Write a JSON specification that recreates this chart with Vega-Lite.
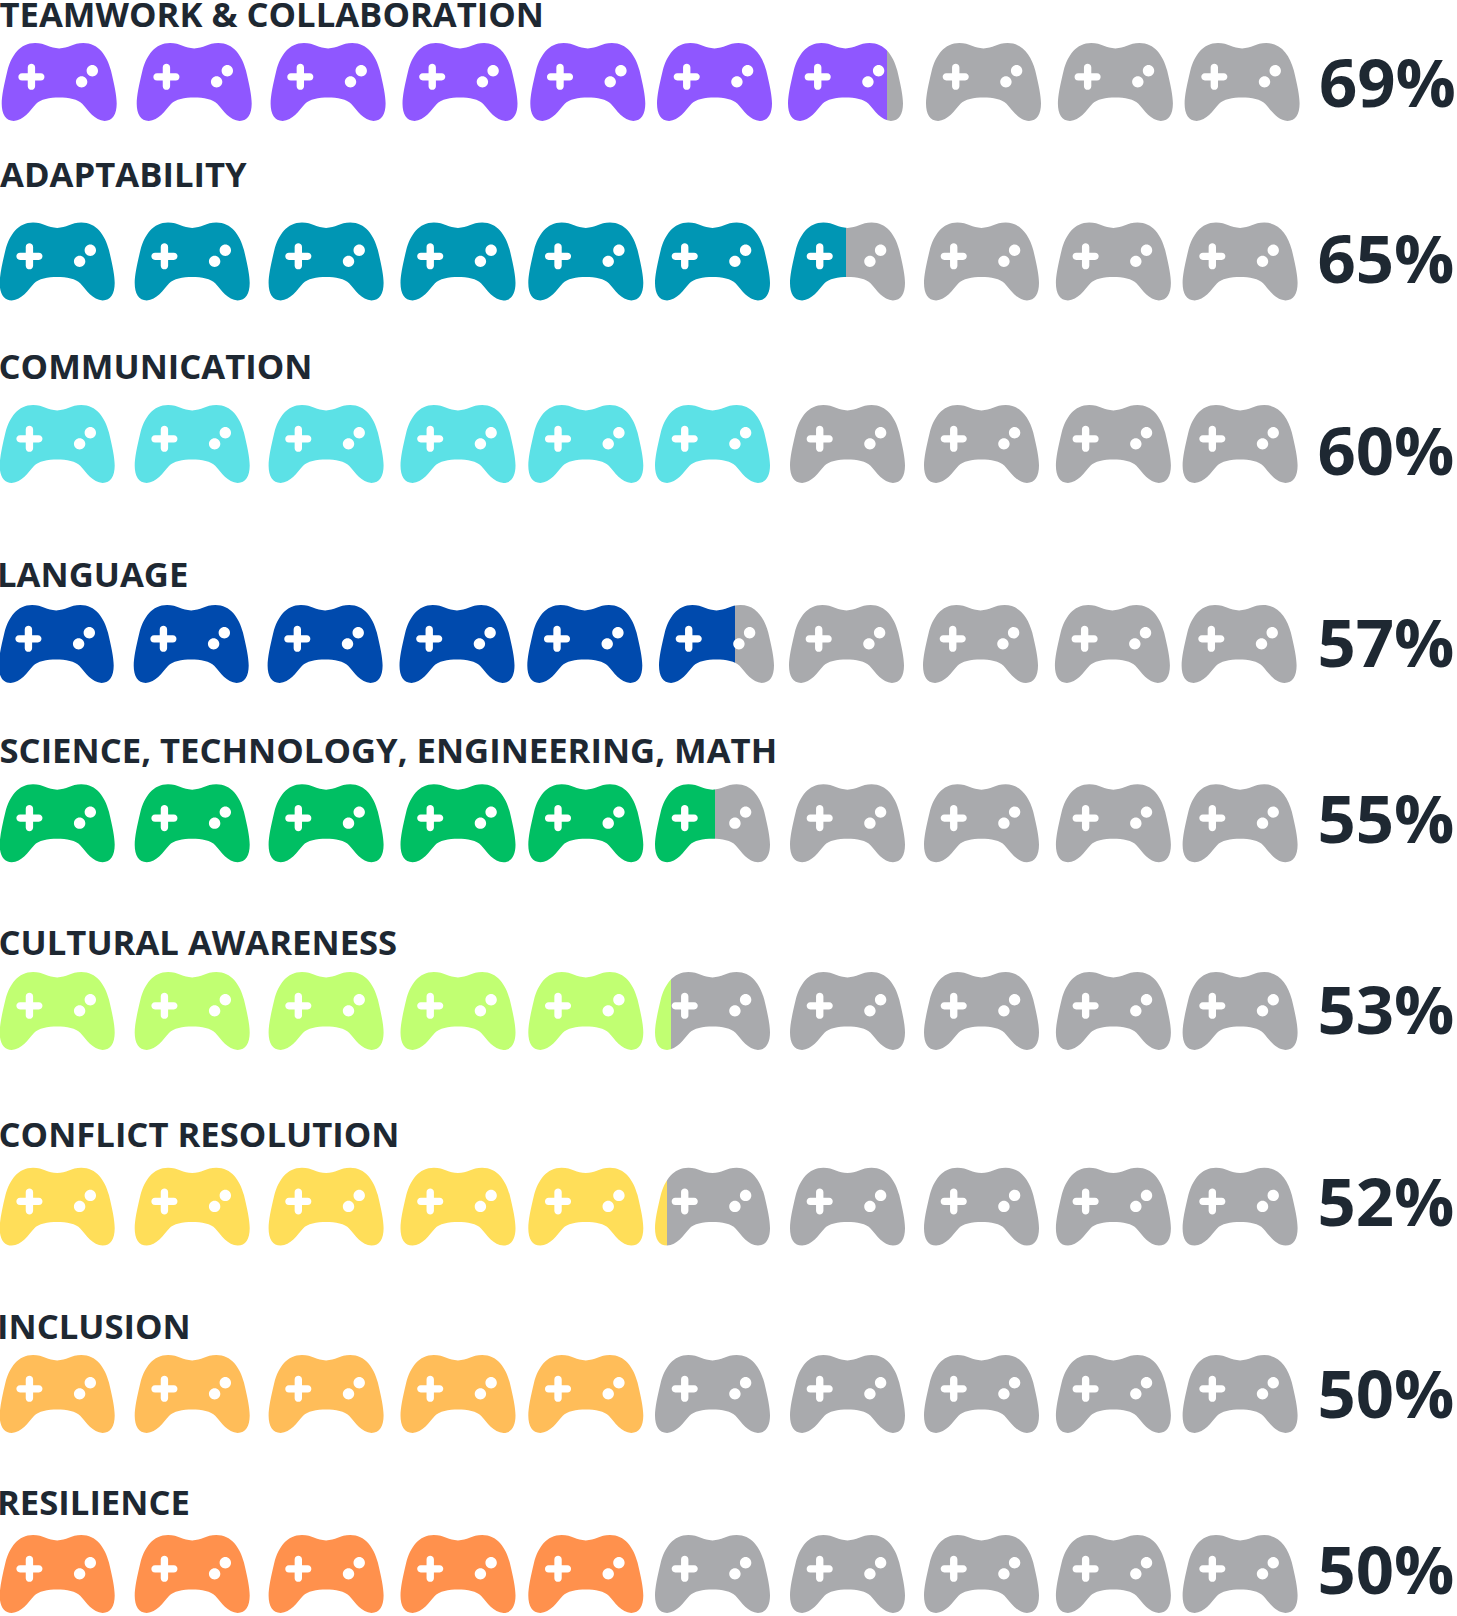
{
"$schema":"https://vega.github.io/schema/vega-lite/v6.json",
"width":1457,"height":1616,"padding":0,"autosize":"none",
"background":"#ffffff",
"config":{"view":{"stroke":null}},
"datasets":{
"icons":[
{"rank":1,"icon":1,"paint":"Teamwork","filled":1},{"rank":1,"icon":2,"paint":"Teamwork","filled":1},{"rank":1,"icon":3,"paint":"Teamwork","filled":1},{"rank":1,"icon":4,"paint":"Teamwork","filled":1},{"rank":1,"icon":5,"paint":"Teamwork","filled":1},{"rank":1,"icon":6,"paint":"Teamwork","filled":1},{"rank":1,"icon":7,"paint":"Teamwork","filled":0.865},{"rank":1,"icon":8,"paint":"Unfilled","filled":0},{"rank":1,"icon":9,"paint":"Unfilled","filled":0},{"rank":1,"icon":10,"paint":"Unfilled","filled":0},
{"rank":2,"icon":1,"paint":"Adaptability","filled":1},{"rank":2,"icon":2,"paint":"Adaptability","filled":1},{"rank":2,"icon":3,"paint":"Adaptability","filled":1},{"rank":2,"icon":4,"paint":"Adaptability","filled":1},{"rank":2,"icon":5,"paint":"Adaptability","filled":1},{"rank":2,"icon":6,"paint":"Adaptability","filled":1},{"rank":2,"icon":7,"paint":"Adaptability","filled":0.486},{"rank":2,"icon":8,"paint":"Unfilled","filled":0},{"rank":2,"icon":9,"paint":"Unfilled","filled":0},{"rank":2,"icon":10,"paint":"Unfilled","filled":0},
{"rank":3,"icon":1,"paint":"Communication","filled":1},{"rank":3,"icon":2,"paint":"Communication","filled":1},{"rank":3,"icon":3,"paint":"Communication","filled":1},{"rank":3,"icon":4,"paint":"Communication","filled":1},{"rank":3,"icon":5,"paint":"Communication","filled":1},{"rank":3,"icon":6,"paint":"Communication","filled":1},{"rank":3,"icon":7,"paint":"Unfilled","filled":0},{"rank":3,"icon":8,"paint":"Unfilled","filled":0},{"rank":3,"icon":9,"paint":"Unfilled","filled":0},{"rank":3,"icon":10,"paint":"Unfilled","filled":0},
{"rank":4,"icon":1,"paint":"Language","filled":1},{"rank":4,"icon":2,"paint":"Language","filled":1},{"rank":4,"icon":3,"paint":"Language","filled":1},{"rank":4,"icon":4,"paint":"Language","filled":1},{"rank":4,"icon":5,"paint":"Language","filled":1},{"rank":4,"icon":6,"paint":"Language","filled":0.658},{"rank":4,"icon":7,"paint":"Unfilled","filled":0},{"rank":4,"icon":8,"paint":"Unfilled","filled":0},{"rank":4,"icon":9,"paint":"Unfilled","filled":0},{"rank":4,"icon":10,"paint":"Unfilled","filled":0},
{"rank":5,"icon":1,"paint":"STEM","filled":1},{"rank":5,"icon":2,"paint":"STEM","filled":1},{"rank":5,"icon":3,"paint":"STEM","filled":1},{"rank":5,"icon":4,"paint":"STEM","filled":1},{"rank":5,"icon":5,"paint":"STEM","filled":1},{"rank":5,"icon":6,"paint":"STEM","filled":0.52},{"rank":5,"icon":7,"paint":"Unfilled","filled":0},{"rank":5,"icon":8,"paint":"Unfilled","filled":0},{"rank":5,"icon":9,"paint":"Unfilled","filled":0},{"rank":5,"icon":10,"paint":"Unfilled","filled":0},
{"rank":6,"icon":1,"paint":"Cultural","filled":1},{"rank":6,"icon":2,"paint":"Cultural","filled":1},{"rank":6,"icon":3,"paint":"Cultural","filled":1},{"rank":6,"icon":4,"paint":"Cultural","filled":1},{"rank":6,"icon":5,"paint":"Cultural","filled":1},{"rank":6,"icon":6,"paint":"Cultural","filled":0.135},{"rank":6,"icon":7,"paint":"Unfilled","filled":0},{"rank":6,"icon":8,"paint":"Unfilled","filled":0},{"rank":6,"icon":9,"paint":"Unfilled","filled":0},{"rank":6,"icon":10,"paint":"Unfilled","filled":0},
{"rank":7,"icon":1,"paint":"Conflict","filled":1},{"rank":7,"icon":2,"paint":"Conflict","filled":1},{"rank":7,"icon":3,"paint":"Conflict","filled":1},{"rank":7,"icon":4,"paint":"Conflict","filled":1},{"rank":7,"icon":5,"paint":"Conflict","filled":1},{"rank":7,"icon":6,"paint":"Conflict","filled":0.1},{"rank":7,"icon":7,"paint":"Unfilled","filled":0},{"rank":7,"icon":8,"paint":"Unfilled","filled":0},{"rank":7,"icon":9,"paint":"Unfilled","filled":0},{"rank":7,"icon":10,"paint":"Unfilled","filled":0},
{"rank":8,"icon":1,"paint":"Inclusion","filled":1},{"rank":8,"icon":2,"paint":"Inclusion","filled":1},{"rank":8,"icon":3,"paint":"Inclusion","filled":1},{"rank":8,"icon":4,"paint":"Inclusion","filled":1},{"rank":8,"icon":5,"paint":"Inclusion","filled":1},{"rank":8,"icon":6,"paint":"Unfilled","filled":0},{"rank":8,"icon":7,"paint":"Unfilled","filled":0},{"rank":8,"icon":8,"paint":"Unfilled","filled":0},{"rank":8,"icon":9,"paint":"Unfilled","filled":0},{"rank":8,"icon":10,"paint":"Unfilled","filled":0},
{"rank":9,"icon":1,"paint":"Resilience","filled":1},{"rank":9,"icon":2,"paint":"Resilience","filled":1},{"rank":9,"icon":3,"paint":"Resilience","filled":1},{"rank":9,"icon":4,"paint":"Resilience","filled":1},{"rank":9,"icon":5,"paint":"Resilience","filled":1},{"rank":9,"icon":6,"paint":"Unfilled","filled":0},{"rank":9,"icon":7,"paint":"Unfilled","filled":0},{"rank":9,"icon":8,"paint":"Unfilled","filled":0},{"rank":9,"icon":9,"paint":"Unfilled","filled":0},{"rank":9,"icon":10,"paint":"Unfilled","filled":0}
],
"skills":[
{"rank":1,"skill":"TEAMWORK & COLLABORATION","share":0.69},
{"rank":2,"skill":"ADAPTABILITY","share":0.65},
{"rank":3,"skill":"COMMUNICATION","share":0.60},
{"rank":4,"skill":"LANGUAGE","share":0.57},
{"rank":5,"skill":"SCIENCE, TECHNOLOGY, ENGINEERING, MATH","share":0.55},
{"rank":6,"skill":"CULTURAL AWARENESS","share":0.53},
{"rank":7,"skill":"CONFLICT RESOLUTION","share":0.52},
{"rank":8,"skill":"INCLUSION","share":0.50},
{"rank":9,"skill":"RESILIENCE","share":0.50}
]},
"data":{"name":"icons"},
"encoding":{
"x":{"field":"icon","type":"quantitative","axis":null,"scale":{"domain":[1,2,3,4,5,6,7,8,9,10],"range":[57.2,192.2,326.1,458,585.8,712.5,847.5,981.5,1113.4,1240.1]}},
"y":{"field":"rank","type":"quantitative","axis":null,"scale":{"domain":[1,2,3,4,5,6,7,8,9],"range":[82,261.5,444,644,823.3,1011,1206.6,1394,1574]}}
},
"layer":[
{"transform":[{"filter":"(datum.filled==0||datum.filled==1)&&datum.rank!=1&&datum.rank!=4"}],
"mark":{"type":"point","filled":true,"opacity":1,"size":13225,"shape":"M0,-0.584C0.16,-0.584 0.24,-0.677 0.42,-0.677C0.68,-0.677 0.83,-0.46 0.9,-0.2C0.96,0.05 1,0.24 1,0.375C1,0.56 0.93,0.677 0.79,0.677C0.62,0.677 0.5,0.49 0.4,0.38C0.33,0.3 0.16,0.27 0,0.27C-0.16,0.27 -0.33,0.3 -0.4,0.38C-0.5,0.49 -0.62,0.677 -0.79,0.677C-0.93,0.677 -1,0.56 -1,0.375C-1,0.24 -0.96,0.05 -0.9,-0.2C-0.83,-0.46 -0.68,-0.677 -0.42,-0.677C-0.24,-0.677 -0.16,-0.584 0,-0.584ZM-0.419,-0.253C-0.419,-0.338 -0.547,-0.338 -0.547,-0.253L-0.547,-0.154L-0.646,-0.154C-0.731,-0.154 -0.731,-0.026 -0.646,-0.026L-0.547,-0.026L-0.547,0.073C-0.547,0.158 -0.419,0.158 -0.419,0.073L-0.419,-0.026L-0.32,-0.026C-0.235,-0.026 -0.235,-0.154 -0.32,-0.154L-0.419,-0.154ZM0.675,-0.195C0.675,-0.2497 0.6307,-0.294 0.576,-0.294C0.5213,-0.294 0.477,-0.2497 0.477,-0.195C0.477,-0.1403 0.5213,-0.096 0.576,-0.096C0.6307,-0.096 0.675,-0.1403 0.675,-0.195ZM0.489,-0.003C0.489,-0.0577 0.4447,-0.102 0.39,-0.102C0.3353,-0.102 0.291,-0.0577 0.291,-0.003C0.291,0.0517 0.3353,0.096 0.39,0.096C0.4447,0.096 0.489,0.0517 0.489,-0.003Z"},
"encoding":{"color":{"field":"paint","type":"nominal","legend":null,"scale":{"domain":["Teamwork","Adaptability","Communication","Language","STEM","Cultural","Conflict","Inclusion","Resilience","Unfilled"],"range":["#8f57ff","#0096b4","#5ce1e6","#004aad","#00bf63","#c1ff72","#ffde59","#ffbd59","#ff914d","#a9aaad"]}}}},
{"transform":[{"filter":"(datum.filled==0||datum.filled==1)&&datum.rank==1"}],
"mark":{"type":"point","filled":true,"opacity":1,"size":13225,"xOffset":2,"shape":"M0,-0.584C0.16,-0.584 0.24,-0.677 0.42,-0.677C0.68,-0.677 0.83,-0.46 0.9,-0.2C0.96,0.05 1,0.24 1,0.375C1,0.56 0.93,0.677 0.79,0.677C0.62,0.677 0.5,0.49 0.4,0.38C0.33,0.3 0.16,0.27 0,0.27C-0.16,0.27 -0.33,0.3 -0.4,0.38C-0.5,0.49 -0.62,0.677 -0.79,0.677C-0.93,0.677 -1,0.56 -1,0.375C-1,0.24 -0.96,0.05 -0.9,-0.2C-0.83,-0.46 -0.68,-0.677 -0.42,-0.677C-0.24,-0.677 -0.16,-0.584 0,-0.584ZM-0.419,-0.253C-0.419,-0.338 -0.547,-0.338 -0.547,-0.253L-0.547,-0.154L-0.646,-0.154C-0.731,-0.154 -0.731,-0.026 -0.646,-0.026L-0.547,-0.026L-0.547,0.073C-0.547,0.158 -0.419,0.158 -0.419,0.073L-0.419,-0.026L-0.32,-0.026C-0.235,-0.026 -0.235,-0.154 -0.32,-0.154L-0.419,-0.154ZM0.675,-0.195C0.675,-0.2497 0.6307,-0.294 0.576,-0.294C0.5213,-0.294 0.477,-0.2497 0.477,-0.195C0.477,-0.1403 0.5213,-0.096 0.576,-0.096C0.6307,-0.096 0.675,-0.1403 0.675,-0.195ZM0.489,-0.003C0.489,-0.0577 0.4447,-0.102 0.39,-0.102C0.3353,-0.102 0.291,-0.0577 0.291,-0.003C0.291,0.0517 0.3353,0.096 0.39,0.096C0.4447,0.096 0.489,0.0517 0.489,-0.003Z"},
"encoding":{"color":{"field":"paint","type":"nominal","legend":null,"scale":{"domain":["Teamwork","Adaptability","Communication","Language","STEM","Cultural","Conflict","Inclusion","Resilience","Unfilled"],"range":["#8f57ff","#0096b4","#5ce1e6","#004aad","#00bf63","#c1ff72","#ffde59","#ffbd59","#ff914d","#a9aaad"]}}}},
{"transform":[{"filter":"(datum.filled==0||datum.filled==1)&&datum.rank==4"}],
"mark":{"type":"point","filled":true,"opacity":1,"size":13225,"xOffset":-1,"shape":"M0,-0.584C0.16,-0.584 0.24,-0.677 0.42,-0.677C0.68,-0.677 0.83,-0.46 0.9,-0.2C0.96,0.05 1,0.24 1,0.375C1,0.56 0.93,0.677 0.79,0.677C0.62,0.677 0.5,0.49 0.4,0.38C0.33,0.3 0.16,0.27 0,0.27C-0.16,0.27 -0.33,0.3 -0.4,0.38C-0.5,0.49 -0.62,0.677 -0.79,0.677C-0.93,0.677 -1,0.56 -1,0.375C-1,0.24 -0.96,0.05 -0.9,-0.2C-0.83,-0.46 -0.68,-0.677 -0.42,-0.677C-0.24,-0.677 -0.16,-0.584 0,-0.584ZM-0.419,-0.253C-0.419,-0.338 -0.547,-0.338 -0.547,-0.253L-0.547,-0.154L-0.646,-0.154C-0.731,-0.154 -0.731,-0.026 -0.646,-0.026L-0.547,-0.026L-0.547,0.073C-0.547,0.158 -0.419,0.158 -0.419,0.073L-0.419,-0.026L-0.32,-0.026C-0.235,-0.026 -0.235,-0.154 -0.32,-0.154L-0.419,-0.154ZM0.675,-0.195C0.675,-0.2497 0.6307,-0.294 0.576,-0.294C0.5213,-0.294 0.477,-0.2497 0.477,-0.195C0.477,-0.1403 0.5213,-0.096 0.576,-0.096C0.6307,-0.096 0.675,-0.1403 0.675,-0.195ZM0.489,-0.003C0.489,-0.0577 0.4447,-0.102 0.39,-0.102C0.3353,-0.102 0.291,-0.0577 0.291,-0.003C0.291,0.0517 0.3353,0.096 0.39,0.096C0.4447,0.096 0.489,0.0517 0.489,-0.003Z"},
"encoding":{"color":{"field":"paint","type":"nominal","legend":null,"scale":{"domain":["Teamwork","Adaptability","Communication","Language","STEM","Cultural","Conflict","Inclusion","Resilience","Unfilled"],"range":["#8f57ff","#0096b4","#5ce1e6","#004aad","#00bf63","#c1ff72","#ffde59","#ffbd59","#ff914d","#a9aaad"]}}}},
{"transform":[{"filter":"datum.rank==1&&datum.icon==7"}],
"mark":{"type":"point","filled":true,"opacity":1,"size":13225,"xOffset":-2,"fill":{"gradient":"linear","x1":0,"y1":0,"x2":1,"y2":0,"stops":[{"offset":0.865,"color":"#8f57ff"},{"offset":0.865,"color":"#a9aaad"}]},"shape":"M0,-0.584C0.16,-0.584 0.24,-0.677 0.42,-0.677C0.68,-0.677 0.83,-0.46 0.9,-0.2C0.96,0.05 1,0.24 1,0.375C1,0.56 0.93,0.677 0.79,0.677C0.62,0.677 0.5,0.49 0.4,0.38C0.33,0.3 0.16,0.27 0,0.27C-0.16,0.27 -0.33,0.3 -0.4,0.38C-0.5,0.49 -0.62,0.677 -0.79,0.677C-0.93,0.677 -1,0.56 -1,0.375C-1,0.24 -0.96,0.05 -0.9,-0.2C-0.83,-0.46 -0.68,-0.677 -0.42,-0.677C-0.24,-0.677 -0.16,-0.584 0,-0.584ZM-0.419,-0.253C-0.419,-0.338 -0.547,-0.338 -0.547,-0.253L-0.547,-0.154L-0.646,-0.154C-0.731,-0.154 -0.731,-0.026 -0.646,-0.026L-0.547,-0.026L-0.547,0.073C-0.547,0.158 -0.419,0.158 -0.419,0.073L-0.419,-0.026L-0.32,-0.026C-0.235,-0.026 -0.235,-0.154 -0.32,-0.154L-0.419,-0.154ZM0.675,-0.195C0.675,-0.2497 0.6307,-0.294 0.576,-0.294C0.5213,-0.294 0.477,-0.2497 0.477,-0.195C0.477,-0.1403 0.5213,-0.096 0.576,-0.096C0.6307,-0.096 0.675,-0.1403 0.675,-0.195ZM0.489,-0.003C0.489,-0.0577 0.4447,-0.102 0.39,-0.102C0.3353,-0.102 0.291,-0.0577 0.291,-0.003C0.291,0.0517 0.3353,0.096 0.39,0.096C0.4447,0.096 0.489,0.0517 0.489,-0.003Z"}},
{"transform":[{"filter":"datum.rank==2&&datum.icon==7"}],
"mark":{"type":"point","filled":true,"opacity":1,"size":13225,"fill":{"gradient":"linear","x1":0,"y1":0,"x2":1,"y2":0,"stops":[{"offset":0.486,"color":"#0096b4"},{"offset":0.486,"color":"#a9aaad"}]},"shape":"M0,-0.584C0.16,-0.584 0.24,-0.677 0.42,-0.677C0.68,-0.677 0.83,-0.46 0.9,-0.2C0.96,0.05 1,0.24 1,0.375C1,0.56 0.93,0.677 0.79,0.677C0.62,0.677 0.5,0.49 0.4,0.38C0.33,0.3 0.16,0.27 0,0.27C-0.16,0.27 -0.33,0.3 -0.4,0.38C-0.5,0.49 -0.62,0.677 -0.79,0.677C-0.93,0.677 -1,0.56 -1,0.375C-1,0.24 -0.96,0.05 -0.9,-0.2C-0.83,-0.46 -0.68,-0.677 -0.42,-0.677C-0.24,-0.677 -0.16,-0.584 0,-0.584ZM-0.419,-0.253C-0.419,-0.338 -0.547,-0.338 -0.547,-0.253L-0.547,-0.154L-0.646,-0.154C-0.731,-0.154 -0.731,-0.026 -0.646,-0.026L-0.547,-0.026L-0.547,0.073C-0.547,0.158 -0.419,0.158 -0.419,0.073L-0.419,-0.026L-0.32,-0.026C-0.235,-0.026 -0.235,-0.154 -0.32,-0.154L-0.419,-0.154ZM0.675,-0.195C0.675,-0.2497 0.6307,-0.294 0.576,-0.294C0.5213,-0.294 0.477,-0.2497 0.477,-0.195C0.477,-0.1403 0.5213,-0.096 0.576,-0.096C0.6307,-0.096 0.675,-0.1403 0.675,-0.195ZM0.489,-0.003C0.489,-0.0577 0.4447,-0.102 0.39,-0.102C0.3353,-0.102 0.291,-0.0577 0.291,-0.003C0.291,0.0517 0.3353,0.096 0.39,0.096C0.4447,0.096 0.489,0.0517 0.489,-0.003Z"}},
{"transform":[{"filter":"datum.rank==4&&datum.icon==6"}],
"mark":{"type":"point","filled":true,"opacity":1,"size":13225,"xOffset":4,"fill":{"gradient":"linear","x1":0,"y1":0,"x2":1,"y2":0,"stops":[{"offset":0.658,"color":"#004aad"},{"offset":0.658,"color":"#a9aaad"}]},"shape":"M0,-0.584C0.16,-0.584 0.24,-0.677 0.42,-0.677C0.68,-0.677 0.83,-0.46 0.9,-0.2C0.96,0.05 1,0.24 1,0.375C1,0.56 0.93,0.677 0.79,0.677C0.62,0.677 0.5,0.49 0.4,0.38C0.33,0.3 0.16,0.27 0,0.27C-0.16,0.27 -0.33,0.3 -0.4,0.38C-0.5,0.49 -0.62,0.677 -0.79,0.677C-0.93,0.677 -1,0.56 -1,0.375C-1,0.24 -0.96,0.05 -0.9,-0.2C-0.83,-0.46 -0.68,-0.677 -0.42,-0.677C-0.24,-0.677 -0.16,-0.584 0,-0.584ZM-0.419,-0.253C-0.419,-0.338 -0.547,-0.338 -0.547,-0.253L-0.547,-0.154L-0.646,-0.154C-0.731,-0.154 -0.731,-0.026 -0.646,-0.026L-0.547,-0.026L-0.547,0.073C-0.547,0.158 -0.419,0.158 -0.419,0.073L-0.419,-0.026L-0.32,-0.026C-0.235,-0.026 -0.235,-0.154 -0.32,-0.154L-0.419,-0.154ZM0.675,-0.195C0.675,-0.2497 0.6307,-0.294 0.576,-0.294C0.5213,-0.294 0.477,-0.2497 0.477,-0.195C0.477,-0.1403 0.5213,-0.096 0.576,-0.096C0.6307,-0.096 0.675,-0.1403 0.675,-0.195ZM0.489,-0.003C0.489,-0.0577 0.4447,-0.102 0.39,-0.102C0.3353,-0.102 0.291,-0.0577 0.291,-0.003C0.291,0.0517 0.3353,0.096 0.39,0.096C0.4447,0.096 0.489,0.0517 0.489,-0.003Z"}},
{"transform":[{"filter":"datum.rank==5&&datum.icon==6"}],
"mark":{"type":"point","filled":true,"opacity":1,"size":13225,"fill":{"gradient":"linear","x1":0,"y1":0,"x2":1,"y2":0,"stops":[{"offset":0.52,"color":"#00bf63"},{"offset":0.52,"color":"#a9aaad"}]},"shape":"M0,-0.584C0.16,-0.584 0.24,-0.677 0.42,-0.677C0.68,-0.677 0.83,-0.46 0.9,-0.2C0.96,0.05 1,0.24 1,0.375C1,0.56 0.93,0.677 0.79,0.677C0.62,0.677 0.5,0.49 0.4,0.38C0.33,0.3 0.16,0.27 0,0.27C-0.16,0.27 -0.33,0.3 -0.4,0.38C-0.5,0.49 -0.62,0.677 -0.79,0.677C-0.93,0.677 -1,0.56 -1,0.375C-1,0.24 -0.96,0.05 -0.9,-0.2C-0.83,-0.46 -0.68,-0.677 -0.42,-0.677C-0.24,-0.677 -0.16,-0.584 0,-0.584ZM-0.419,-0.253C-0.419,-0.338 -0.547,-0.338 -0.547,-0.253L-0.547,-0.154L-0.646,-0.154C-0.731,-0.154 -0.731,-0.026 -0.646,-0.026L-0.547,-0.026L-0.547,0.073C-0.547,0.158 -0.419,0.158 -0.419,0.073L-0.419,-0.026L-0.32,-0.026C-0.235,-0.026 -0.235,-0.154 -0.32,-0.154L-0.419,-0.154ZM0.675,-0.195C0.675,-0.2497 0.6307,-0.294 0.576,-0.294C0.5213,-0.294 0.477,-0.2497 0.477,-0.195C0.477,-0.1403 0.5213,-0.096 0.576,-0.096C0.6307,-0.096 0.675,-0.1403 0.675,-0.195ZM0.489,-0.003C0.489,-0.0577 0.4447,-0.102 0.39,-0.102C0.3353,-0.102 0.291,-0.0577 0.291,-0.003C0.291,0.0517 0.3353,0.096 0.39,0.096C0.4447,0.096 0.489,0.0517 0.489,-0.003Z"}},
{"transform":[{"filter":"datum.rank==6&&datum.icon==6"}],
"mark":{"type":"point","filled":true,"opacity":1,"size":13225,"fill":{"gradient":"linear","x1":0,"y1":0,"x2":1,"y2":0,"stops":[{"offset":0.135,"color":"#c1ff72"},{"offset":0.135,"color":"#a9aaad"}]},"shape":"M0,-0.584C0.16,-0.584 0.24,-0.677 0.42,-0.677C0.68,-0.677 0.83,-0.46 0.9,-0.2C0.96,0.05 1,0.24 1,0.375C1,0.56 0.93,0.677 0.79,0.677C0.62,0.677 0.5,0.49 0.4,0.38C0.33,0.3 0.16,0.27 0,0.27C-0.16,0.27 -0.33,0.3 -0.4,0.38C-0.5,0.49 -0.62,0.677 -0.79,0.677C-0.93,0.677 -1,0.56 -1,0.375C-1,0.24 -0.96,0.05 -0.9,-0.2C-0.83,-0.46 -0.68,-0.677 -0.42,-0.677C-0.24,-0.677 -0.16,-0.584 0,-0.584ZM-0.419,-0.253C-0.419,-0.338 -0.547,-0.338 -0.547,-0.253L-0.547,-0.154L-0.646,-0.154C-0.731,-0.154 -0.731,-0.026 -0.646,-0.026L-0.547,-0.026L-0.547,0.073C-0.547,0.158 -0.419,0.158 -0.419,0.073L-0.419,-0.026L-0.32,-0.026C-0.235,-0.026 -0.235,-0.154 -0.32,-0.154L-0.419,-0.154ZM0.675,-0.195C0.675,-0.2497 0.6307,-0.294 0.576,-0.294C0.5213,-0.294 0.477,-0.2497 0.477,-0.195C0.477,-0.1403 0.5213,-0.096 0.576,-0.096C0.6307,-0.096 0.675,-0.1403 0.675,-0.195ZM0.489,-0.003C0.489,-0.0577 0.4447,-0.102 0.39,-0.102C0.3353,-0.102 0.291,-0.0577 0.291,-0.003C0.291,0.0517 0.3353,0.096 0.39,0.096C0.4447,0.096 0.489,0.0517 0.489,-0.003Z"}},
{"transform":[{"filter":"datum.rank==7&&datum.icon==6"}],
"mark":{"type":"point","filled":true,"opacity":1,"size":13225,"fill":{"gradient":"linear","x1":0,"y1":0,"x2":1,"y2":0,"stops":[{"offset":0.1,"color":"#ffde59"},{"offset":0.1,"color":"#a9aaad"}]},"shape":"M0,-0.584C0.16,-0.584 0.24,-0.677 0.42,-0.677C0.68,-0.677 0.83,-0.46 0.9,-0.2C0.96,0.05 1,0.24 1,0.375C1,0.56 0.93,0.677 0.79,0.677C0.62,0.677 0.5,0.49 0.4,0.38C0.33,0.3 0.16,0.27 0,0.27C-0.16,0.27 -0.33,0.3 -0.4,0.38C-0.5,0.49 -0.62,0.677 -0.79,0.677C-0.93,0.677 -1,0.56 -1,0.375C-1,0.24 -0.96,0.05 -0.9,-0.2C-0.83,-0.46 -0.68,-0.677 -0.42,-0.677C-0.24,-0.677 -0.16,-0.584 0,-0.584ZM-0.419,-0.253C-0.419,-0.338 -0.547,-0.338 -0.547,-0.253L-0.547,-0.154L-0.646,-0.154C-0.731,-0.154 -0.731,-0.026 -0.646,-0.026L-0.547,-0.026L-0.547,0.073C-0.547,0.158 -0.419,0.158 -0.419,0.073L-0.419,-0.026L-0.32,-0.026C-0.235,-0.026 -0.235,-0.154 -0.32,-0.154L-0.419,-0.154ZM0.675,-0.195C0.675,-0.2497 0.6307,-0.294 0.576,-0.294C0.5213,-0.294 0.477,-0.2497 0.477,-0.195C0.477,-0.1403 0.5213,-0.096 0.576,-0.096C0.6307,-0.096 0.675,-0.1403 0.675,-0.195ZM0.489,-0.003C0.489,-0.0577 0.4447,-0.102 0.39,-0.102C0.3353,-0.102 0.291,-0.0577 0.291,-0.003C0.291,0.0517 0.3353,0.096 0.39,0.096C0.4447,0.096 0.489,0.0517 0.489,-0.003Z"}},
{"data":{"name":"skills"},
"mark":{"type":"text","align":"left","baseline":"alphabetic","font":"Open Sans","fontWeight":700,"fontSize":34.65,"color":"#1e2832"},
"encoding":{"x":{"field":"rank","type":"quantitative","axis":null,"scale":{"domain":[1,2,3,4,5,6,7,8,9],"range":[-0.5,0,-1.5,-3,-0.5,-1.5,-1.5,-3,-3]}},
"y":{"field":"rank","type":"quantitative","axis":null,"scale":{"domain":[1,2,3,4,5,6,7,8,9],"range":[26.7,187.3,379.3,586.7,763,955.3,1147,1338.6,1514.7]}},
"text":{"field":"skill","type":"nominal"}}},
{"data":{"name":"skills"},
"mark":{"type":"text","align":"left","baseline":"alphabetic","font":"Open Sans","fontWeight":700,"fontSize":67,"color":"#1e2832"},
"encoding":{"x":{"field":"rank","type":"quantitative","axis":null,"scale":{"domain":[1,2,3,4,5,6,7,8,9],"range":[1319,1317.5,1317.5,1317.5,1317.5,1317.5,1317.5,1317.5,1317.5]}},
"y":{"field":"rank","type":"quantitative","axis":null,"scale":{"domain":[1,2,3,4,5,6,7,8,9],"range":[107.3,282.7,474.8,666.5,842.7,1034.3,1226,1417.6,1593.8]}},
"text":{"field":"share","type":"quantitative","format":".0%"}}}
],
"resolve":{"scale":{"x":"independent","y":"independent"}}
}
